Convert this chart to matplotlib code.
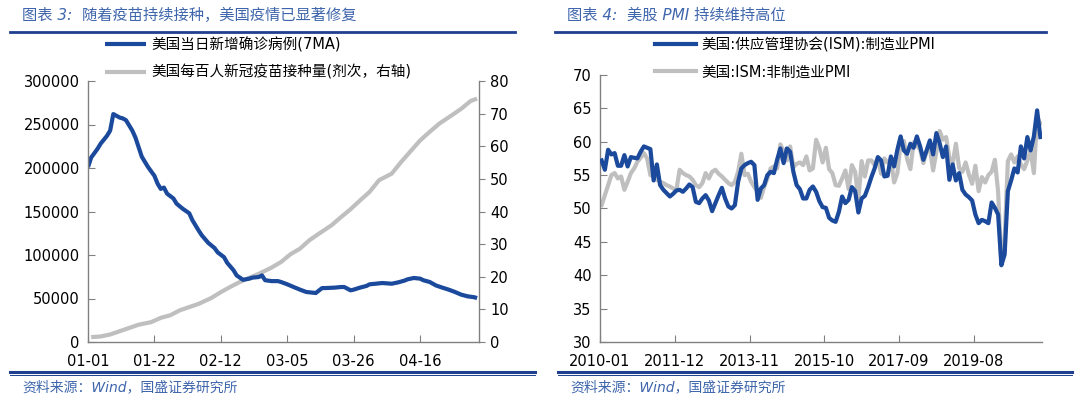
import matplotlib
matplotlib.use("Agg")
import matplotlib.pyplot as plt
from matplotlib.lines import Line2D
import pandas as pd
import numpy as np

plt.rcParams['font.family'] = ['DejaVu Sans', 'Noto Sans CJK SC']

# ---------------- Left chart data (2021, day offsets from 01-01) ----------------
case_days = [0, 1, 3, 4, 6, 7, 8, 10, 11, 12, 14, 15, 16, 17, 19, 21, 22, 23, 24, 25,
             27, 28, 30, 32, 33, 35, 36, 38, 40, 41, 43, 44, 46, 47, 49, 51, 52, 54, 55,
             56, 58, 60, 61, 63, 65, 67, 69, 71, 72, 74, 75, 78, 80, 81, 83, 84, 86, 88,
             89, 91, 93, 96, 98, 100, 101, 103, 105, 106, 108, 110, 112, 114, 116, 118,
             120, 122, 123]
case_vals = [201000, 212000, 222000, 228000, 237000, 243000, 262000, 258000, 257000,
             255000, 243000, 235000, 224000, 213000, 201000, 191000, 182000, 176000,
             177500, 170500, 165000, 159000, 153000, 148000, 140000, 128000, 122500,
             114000, 108000, 103000, 97500, 91000, 82500, 76500, 71500, 72800, 74000,
             74700, 76500, 71000, 70000, 70000, 69000, 66300, 63200, 60200, 57500,
             56700, 56300, 62000, 62000, 62500, 63200, 63200, 59400, 60200, 62500,
             64400, 66300, 67000, 67800, 67000, 68500, 70500, 72000, 73600, 72800,
             71000, 69000, 65000, 62500, 60200, 57500, 54400, 52500, 51500, 50500]

vac_days = [1, 4, 7, 10, 13, 16, 20, 23, 26, 29, 32, 35, 39, 42, 45, 48, 51, 54, 58,
            61, 64, 67, 70, 73, 77, 80, 83, 86, 89, 92, 96, 99, 102, 105, 108, 111,
            115, 118, 121, 123]
vac_vals = [1.5, 1.7, 2.3, 3.3, 4.3, 5.3, 6.1, 7.4, 8.2, 9.7, 10.7, 11.7, 13.5, 15.3,
            16.9, 18.4, 19.7, 20.9, 22.8, 24.5, 26.9, 28.6, 31.2, 33.2, 35.8, 38.3,
            40.7, 43.4, 46.0, 49.6, 51.6, 55.2, 58.5, 61.8, 64.4, 66.9, 69.5, 71.5,
            73.9, 74.6]

left_ticks = ['01-01', '01-22', '02-12', '03-05', '03-26', '04-16']
left_labels = ['美国当日新增确诊病例(7MA)', '美国每百人新冠疫苗接种量(剂次，右轴)']

# ---------------- Right chart data (monthly, 2010-01 .. 2021-04) ----------------
pmi_mfg = [57.2, 55.8, 58.8, 58.1, 58.3, 56.4, 56.4, 58.0, 56.3, 57.7, 57.6, 57.5,
           58.5, 59.3, 59.1, 58.9, 54.2, 56.6, 53.5, 52.8, 52.3, 51.8, 52.2, 52.7,
           52.8, 52.5, 53.0, 53.6, 53.2, 51.0, 50.8, 51.5, 52.0, 51.2, 49.6, 50.8,
           52.0, 53.1, 51.5, 50.3, 50.0, 50.5, 54.0, 56.0, 56.5, 56.8, 57.0, 56.5,
           51.3, 53.0, 53.5, 55.0, 55.5, 55.3, 57.3, 59.0, 56.8, 59.0, 58.5, 55.5,
           53.5, 52.9, 51.5, 51.5, 52.8, 53.3, 52.5, 51.1, 50.2, 50.1, 48.6, 48.2,
           48.0, 49.5, 51.8, 50.8, 51.3, 53.2, 52.6, 49.4, 51.5, 51.9, 53.2, 54.7,
           56.0, 57.7, 57.2, 54.8, 54.9, 57.8, 56.3, 58.8, 60.8, 58.7, 58.2, 59.7,
           59.1, 60.8, 59.3, 57.3, 58.7, 60.2, 58.1, 61.3, 59.8, 57.7, 59.3, 54.3,
           56.6, 54.2, 55.3, 52.8, 52.1, 51.7, 51.2, 49.1, 47.8, 48.3, 48.1, 47.8,
           50.9, 50.1, 49.1, 41.5, 43.1, 52.6, 54.2, 56.0, 55.4, 59.3, 57.5, 60.7,
           58.7, 60.8, 64.7, 60.7]
pmi_non = [50.5, 52.0, 53.5, 55.0, 55.3, 54.5, 54.8, 52.8, 54.0, 55.3, 56.0, 57.0,
           57.6, 58.3, 57.5, 55.0, 54.8, 54.3, 54.0, 53.8, 53.5, 53.3, 53.0, 52.8,
           55.8, 55.3, 55.0, 54.8, 54.3, 53.5, 53.2, 53.8, 55.3, 54.5, 55.5, 55.8,
           55.2, 54.8, 54.3, 53.8, 53.5, 54.0, 55.5, 58.2, 55.0, 55.2, 54.0, 53.2,
           52.5, 51.6, 53.2, 54.5, 56.0, 56.3, 56.0, 59.6, 58.6, 57.2, 59.3, 56.2,
           56.7, 56.9, 56.5, 57.8, 55.7, 56.0, 60.3, 59.0, 56.9, 59.1, 55.9, 55.3,
           53.5, 53.4, 54.5, 55.7, 52.9, 56.5, 55.5, 51.4, 57.1, 54.8, 57.2, 57.2,
           56.5, 57.6, 55.2, 57.5, 56.9, 57.4, 53.9, 55.3, 59.8, 60.1, 57.4, 55.9,
           59.9, 59.5, 58.8, 56.8, 58.6, 59.1, 55.7, 58.5, 61.6, 60.3, 60.7, 57.6,
           56.7, 59.7, 56.1, 55.5, 56.9, 55.1, 53.7, 56.4, 52.6, 54.7, 53.9, 55.0,
           55.5, 57.3, 52.5, 41.8, 45.4, 57.1, 58.1, 56.9, 57.8, 56.6, 55.9, 57.2,
           58.7, 55.3, 63.7, 62.7]
right_ticks = ['2010-01', '2011-12', '2013-11', '2015-10', '2017-09', '2019-08']
right_labels = ['美国:供应管理协会(ISM):制造业PMI', '美国:ISM:非制造业PMI']

# ---------------- styles ----------------
BLUE = '#1B4A9C'
GRAY = '#BFBFBF'
TITLE_C = '#3F66AC'
LINE_C = '#1F3F8F'
SPINE = '#808080'
TFS = 10.5

W, H = 1080, 409
fig = plt.figure(figsize=(W / 100, H / 100), dpi=100)

def fx(px):
    return px / W

def fy(py):
    return 1 - py / H

# ---------------- Left chart ----------------
start = pd.Timestamp('2021-01-01')
case_dates = [start + pd.Timedelta(days=d) for d in case_days]
vac_dates = [start + pd.Timedelta(days=d) for d in vac_days]

axL = fig.add_axes([fx(88), fy(342), fx(479) - fx(88), fy(81) - fy(342)])
axR = axL.twinx()
axL.set_zorder(axR.get_zorder() + 1)
axL.patch.set_visible(False)

lc, = axL.plot(case_dates, case_vals, color=BLUE, lw=3.0, solid_capstyle='butt')
lv, = axR.plot(vac_dates, vac_vals, color=GRAY, lw=3.0, solid_capstyle='butt')

axL.set_ylim(0, 300000)
axR.set_ylim(0, 80)
axL.set_yticks(np.arange(0, 300001, 50000))
axR.set_yticks(np.arange(0, 81, 10))
axL.set_xlim(start, start + pd.Timedelta(days=123.6))
tick_dates = [start + pd.Timedelta(days=21 * i) for i in range(len(left_ticks))]
axL.set_xticks(tick_dates)
axL.set_xticklabels(left_ticks)

for a in (axL, axR):
    for s in a.spines.values():
        s.set_color(SPINE)
        s.set_linewidth(1.0)
    a.spines['top'].set_visible(False)
axL.spines['right'].set_visible(False)
axR.spines['left'].set_visible(False)
axR.spines['bottom'].set_visible(False)

axL.tick_params(axis='y', direction='in', length=5, color=SPINE, labelsize=TFS, pad=6)
axL.tick_params(axis='x', direction='in', length=5, color=SPINE, labelsize=TFS, pad=9)
axR.tick_params(axis='y', direction='out', length=4, color=SPINE, labelsize=TFS, pad=4)

legL = axL.legend([lc, lv], left_labels, loc='upper left',
                  bbox_to_anchor=(fx(105), fy(37)), bbox_transform=fig.transFigure,
                  frameon=False, fontsize=TFS, handlelength=2.8, handletextpad=0.35,
                  labelspacing=0.85, borderpad=0, borderaxespad=0)

# ---------------- Right chart ----------------
m = np.arange(len(pmi_mfg))
ax2 = fig.add_axes([fx(600), fy(342), fx(1042) - fx(600), fy(75) - fy(342)])
l1, = ax2.plot(m, pmi_mfg, color=BLUE, lw=3.0, zorder=3)
l2, = ax2.plot(m, pmi_non, color=GRAY, lw=3.0, zorder=2)
ax2.set_ylim(30, 70)
ax2.set_yticks(np.arange(30, 71, 5))
ax2.set_xlim(-0.5, len(pmi_mfg) - 0.5)
ax2.set_xticks([-0.5 + 23 * i for i in range(len(right_ticks))])
ax2.set_xticklabels(right_ticks)
for s in ax2.spines.values():
    s.set_color(SPINE)
    s.set_linewidth(1.0)
ax2.spines['top'].set_visible(False)
ax2.spines['right'].set_visible(False)
ax2.tick_params(axis='y', direction='in', length=5, color=SPINE, labelsize=TFS, pad=6)
ax2.tick_params(axis='x', direction='in', length=5, color=SPINE, labelsize=TFS, pad=9)

leg2 = ax2.legend([l1, l2], right_labels, loc='upper left',
                  bbox_to_anchor=(fx(655), fy(37)), bbox_transform=fig.transFigure,
                  frameon=False, fontsize=TFS, handlelength=2.8, handletextpad=0.35,
                  labelspacing=0.85, borderpad=0, borderaxespad=0)

# ---------------- Titles, rules, sources ----------------
fig.text(fx(22), fy(15), '图表 3:  随着疫苗持续接种，美国疫情已显著修复', color=TITLE_C,
         fontsize=11, style='italic', va='center', ha='left')
fig.text(fx(567), fy(15), '图表 4:  美股 PMI 持续维持高位', color=TITLE_C,
         fontsize=11, style='italic', va='center', ha='left')

for x0, x1 in [(10, 515), (555, 1046)]:
    fig.add_artist(Line2D([fx(x0), fx(x1)], [fy(32), fy(32)], color=LINE_C, lw=2.0))
for x0, x1 in [(10, 535), (558, 1072)]:
    fig.add_artist(Line2D([fx(x0), fx(x1)], [fy(371.5), fy(371.5)], color=LINE_C, lw=2.2))
    fig.add_artist(Line2D([fx(x0), fx(x1)], [fy(374.5), fy(374.5)], color=LINE_C, lw=0.7))

fig.text(fx(22), fy(387), '资料来源：Wind，国盛证券研究所', color=TITLE_C,
         fontsize=10, style='italic', va='center', ha='left')
fig.text(fx(570), fy(387), '资料来源：Wind，国盛证券研究所', color=TITLE_C,
         fontsize=10, style='italic', va='center', ha='left')

fig.savefig('out.png', dpi=100)
